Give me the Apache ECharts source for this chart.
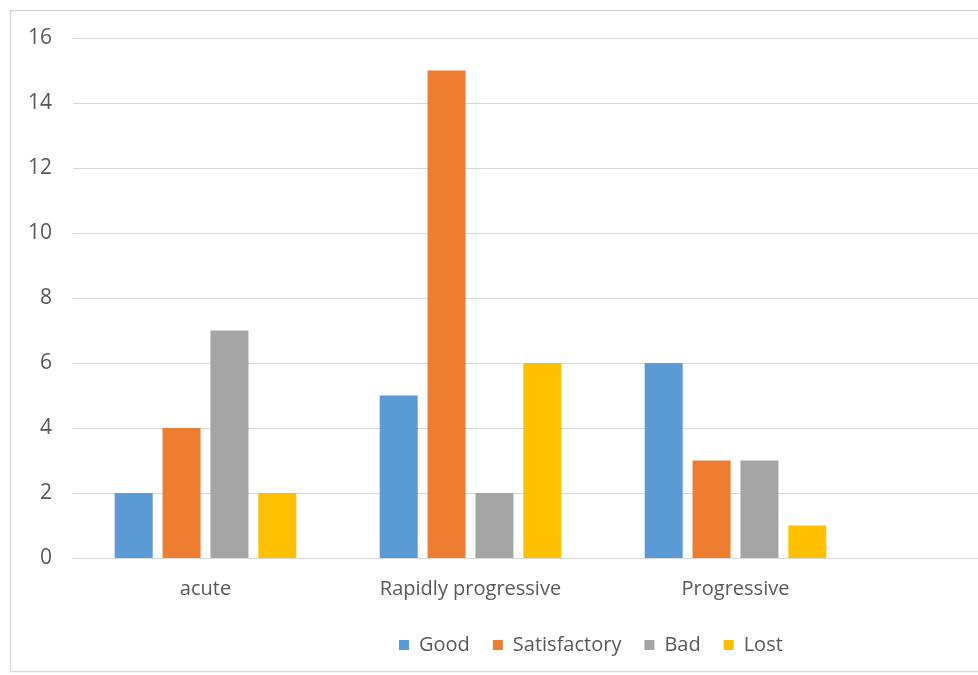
<!DOCTYPE html>
<html>
<head>
<meta charset="utf-8">
<script src="https://cdn.jsdelivr.net/npm/echarts@6/dist/echarts.min.js"></script>
<style>html,body{margin:0;padding:0;background:#fff;overflow:hidden;width:978px;height:675px;}#c{width:1170px;height:675px;}</style>
</head>
<body>
<div id="c"></div>
<script>
// Categories (4th band is empty in the original, cropped at right edge)
const categories = ['acute', 'Rapidly progressive', 'Progressive', ''];
const seriesNames = ['Good', 'Satisfactory', 'Bad', 'Lost'];
const good = [2, 5, 6, null];
const satisfactory = [4, 15, 3, null];
const bad = [7, 2, 3, null];
const lost = [2, 6, 1, null];
const colors = ['#5b9bd5', '#ed7d31', '#a5a5a5', '#ffc000'];

const chart = echarts.init(document.getElementById('c'), null, {renderer: 'canvas'});
const font = "'Open Sans', 'Noto Sans', sans-serif";
const values = [good, satisfactory, bad, lost];
chart.setOption({
  animation: false,
  backgroundColor: '#ffffff',
  textStyle: {fontFamily: font},
  graphic: [{
    type: 'rect', silent: true, z: -1,
    shape: {x: 10.5, y: 10.5, width: 1200, height: 661},
    style: {fill: 'none', stroke: '#d9d9d9', lineWidth: 1.5}
  }],
  legend: {
    data: seriesNames,
    left: 394, top: 630,
    itemWidth: 10, itemHeight: 10, itemGap: 23,
    icon: 'rect',
    textStyle: {color: '#595959', fontSize: 20, fontFamily: font, padding: [0, 0, 0, 5]}
  },
  grid: {left: 73, right: 37, top: 38, bottom: 117, containLabel: false},
  xAxis: {
    type: 'category',
    data: categories,
    axisLine: {show: true, lineStyle: {color: '#d9d9d9', width: 1}},
    axisTick: {show: false},
    axisLabel: {color: '#595959', fontSize: 20, margin: 21, interval: 0, fontFamily: font}
  },
  yAxis: {
    type: 'value', min: 0, max: 16, interval: 2,
    axisLine: {show: false},
    axisTick: {show: false},
    splitLine: {lineStyle: {color: '#d9d9d9', width: 1}},
    axisLabel: {color: '#595959', fontSize: 21, margin: 21, fontFamily: font}
  },
  series: seriesNames.map((n, i) => ({
    name: n, type: 'bar', data: values[i],
    barWidth: 38, barGap: '26%',
    itemStyle: {color: colors[i]}
  }))
});
</script>
</body>
</html>
